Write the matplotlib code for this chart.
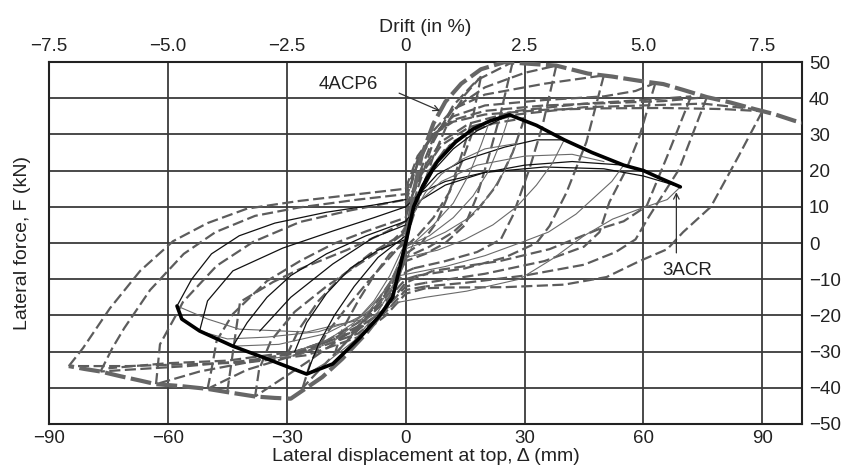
import matplotlib
matplotlib.use("Agg")
import matplotlib.pyplot as plt
import numpy as np

plt.rcParams['font.family'] = ['Liberation Sans', 'DejaVu Sans']

# ---------------- data (displacement mm, force kN) ----------------
x_ticks = [-90, -60, -30, 0, 30, 60, 90]
y_ticks = [-50, -40, -30, -20, -10, 0, 10, 20, 30, 40, 50]
drift_ticks = [-7.5, -5.0, -2.5, 0, 2.5, 5.0, 7.5]
drift_labels = ["\u22127.5", "\u22125.0", "\u22122.5", "0", "2.5", "5.0", "7.5"]

# 3ACR backbone (thick black)
acr_backbone_x = [-57.7, -56.5, -52, -43.6, -35, -25, -18.4, -11.6, -6.5, -3.3, 0, 2, 4.3, 8, 12.6, 17, 21.2, 26.2, 33, 40, 47, 55, 60, 64, 69.3]
acr_backbone_y = [-17.4, -21, -24.3, -28.5, -32, -36.2, -33.4, -26.2, -20, -15, 0, 10, 15.8, 22.5, 27.9, 31.5, 33.7, 35.4, 32.5, 28.5, 25, 21.5, 20, 18, 15.5]

# 4ACP6 envelope (thick grey dashed)
acp_env_pos_x = [0, 2, 4, 7, 10, 14, 19, 25, 30, 38, 46, 52, 59, 65, 70, 76, 82, 88, 93, 98, 100]
acp_env_pos_y = [0, 14, 24, 33, 39, 44, 48, 50, 49.6, 49, 46.8, 46, 44.8, 43.9, 42.3, 40.3, 38.8, 37, 35.6, 33.8, 33.2]
acp_env_neg_x = [0, -2, -5, -10, -16, -21, -25, -29, -33, -38, -45, -50, -57, -63, -67, -72, -77, -81, -85]
acp_env_neg_y = [0, -10, -18, -25, -32, -37, -40, -43, -42.8, -42.4, -41.2, -40.3, -39.5, -39, -38, -36.8, -35.5, -34.8, -34]

# 4ACP6 cyclic branches (grey dashed): reloading towards + peaks
acp_reload_pos = [
    [(0, 15), (3, 24), (7, 30), (12, 33.5), (20, 35.5), (35, 36.8), (50, 37.2), (65, 37.3), (80, 37), (90, 36.4)],
    [(0, 13.5), (3, 23), (7, 30), (12, 34), (20, 36.5), (35, 38), (50, 38.6), (65, 39.2), (76, 40.3)],
    [(0, 12), (3, 22), (7, 30), (12, 35), (20, 38), (35, 39.5), (50, 40.5), (58, 42), (63, 44.2)],
    [(0, 11), (3, 22), (7, 31), (12, 37), (20, 41), (35, 44), (50, 46.3)],
    [(0, 7), (3, 18), (7, 29), (12, 37), (20, 43), (30, 47), (38, 49)],
    [(0, 3), (3, 15), (7, 28), (12, 38), (18, 45), (27, 50)],
    [(0, 1), (3, 11), (7, 24), (11, 34), (15, 41), (19, 46)],
    [(0, 10), (4, 20), (9, 28), (16, 33), (28, 36.5), (45, 38.5), (60, 39.5), (72, 40.5)],
    [(0, 9), (4, 19), (9, 27), (16, 32), (28, 35.5), (45, 37.5), (60, 38), (75, 38.5), (88, 37)],
    [(0, 4), (3, 12), (6, 20), (10, 26), (15, 30), (22, 33), (30, 34.5)],
    [(-1, 2), (2, 9), (5, 17), (8, 23), (12, 28), (17, 31)],
]
# unloading from + peaks down to the pinched zone
acp_unload_pos = [
    [(90, 36.4), (84, 24), (77, 10), (70, 3), (66, -1.7), (59, -5), (50.7, -9.4), (40, -11.5), (25, -12.2), (10, -12.3), (5, -12.5)],
    [(76, 40.3), (69, 20.4), (61.5, 7.5), (58, 1), (53, -2.5), (45, -6), (30, -9), (15, -11), (5, -12)],
    [(63, 44.2), (59, 29.5), (55.7, 20.4), (51.4, 11.3), (48.9, 3), (45, -1), (35, -5), (20, -8.5), (5, -11)],
    [(50, 46.3), (45.6, 27.9), (40.6, 14), (36.3, 4.7), (33, 0), (25, -4), (15, -7), (3, -9)],
    [(38, 49), (34.5, 32.3), (31.2, 20.4), (27, 7.5), (24, 1), (18, -2.5), (10, -5), (2, -7)],
    [(27, 50), (24, 36), (21, 24), (18, 13), (15, 5), (10, 0), (5, -3), (0, -5)],
    [(19, 46), (17, 35), (14, 24), (11, 14), (8, 6), (4, 0), (0, -3)],
    [(72, 40.5), (66, 24), (60.8, 10.2), (55, 6), (48.9, 3.9), (36.3, -1.7), (23.7, -5), (6.8, -7.7)],
    [(30, 34.5), (27, 25), (23, 16), (18, 9), (12, 3), (6, -1), (0, -4)],
    [(17, 31), (14, 22), (11, 14), (7, 7), (3, 2), (0, -1)],
]
# reloading towards - peaks
acp_reload_neg = [
    [(5, -12.5), (0, -14), (-5, -20), (-12, -26), (-25, -31), (-40, -33), (-55, -33.5), (-70, -34), (-85, -34)],
    [(5, -12), (0, -13), (-5, -19), (-12, -25), (-25, -30), (-40, -32.5), (-55, -34), (-70, -35), (-77, -35.5)],
    [(5, -11), (0, -12), (-5, -18), (-12, -24), (-25, -29.5), (-40, -33), (-52, -35.5), (-63, -39)],
    [(3, -9), (0, -10), (-5, -16), (-12, -23), (-25, -30), (-40, -35), (-50, -40.3)],
    [(2, -7), (0, -8), (-5, -15), (-12, -23), (-25, -33), (-38, -42.4)],
    [(0, -5), (-5, -14), (-12, -24), (-20, -33), (-26, -40)],
    [(0, -3), (-4, -11), (-9, -19), (-14, -26), (-18, -31)],
    [(6.8, -7.7), (0, -11), (-6, -19), (-14, -25), (-28, -30), (-45, -32.5), (-60, -33.2), (-75, -34.6)],
    [(0, -4), (-3, -10), (-7, -17), (-12, -22), (-20, -27), (-30, -31)],
]
# unloading from - peaks back up to the pinched zone
acp_unload_neg = [
    [(-85, -34), (-81.4, -29), (-74.6, -18), (-67, -7.7), (-58.7, 0.5), (-50, 5.5), (-40, 9.5), (-27, 11.6), (-12, 13.5), (0, 15)],
    [(-77, -35.5), (-74, -29), (-71, -23.5), (-64.5, -13), (-56, -3), (-48, 3), (-38, 7.5), (-27, 9.8), (-12, 12), (0, 13.5)],
    [(-63, -39), (-62, -28), (-58, -20), (-56.2, -16.3), (-47.7, -6.3), (-38.5, 0.3), (-26.7, 5.8), (-14, 9), (0, 12)],
    [(-50, -40.3), (-49, -35), (-47.7, -27), (-43.6, -19.6), (-35, -10.5), (-26.7, -5), (-18.4, -0.3), (-9.8, 3.3), (0, 7)],
    [(-38, -42.4), (-37, -35), (-34, -27), (-28, -19), (-20, -12), (-12, -6), (-5, -1), (0, 3)],
    [(-26, -40), (-24, -33), (-20, -25), (-15, -18), (-9, -10), (-4, -4), (0, 1)],
    [(-18, -31), (-16, -24), (-12, -16), (-8, -9), (-4, -3), (0, 0)],
    [(-45, -41), (-41.8, -16.3), (-33.5, -10.8), (-26.7, -7.2), (-15, -2), (-5, 3), (0, 6)],
    [(-30, -31), (-27, -24), (-22, -16), (-16, -9), (-9, -3), (-3, 1), (0, 4)],
]

# 3ACR cyclic branches (thin solid)
acr_reload_pos = [
    [(0, 0), (2, 10), (5, 18), (10, 25), (15, 30), (21.2, 33.7)],
    [(0, 2), (3, 12), (7, 20), (12, 26), (18, 31), (26.2, 35.4)],
    [(0, 5), (3, 13), (8, 19), (15, 23), (25, 26.5), (33, 28.5), (40, 28.5)],
    [(0, 6), (4, 12), (10, 16), (20, 19.5), (30, 21.5), (42, 22.5), (55, 21.5)],
    [(0, 10), (4, 14), (10, 17), (20, 19.5), (35, 21), (50, 20.5), (60, 18.5), (69.3, 15.5)],
    [(-1, 3), (3, 11), (9, 17), (18, 21.5), (30, 24), (42, 24.5), (50, 22.5)],
    [(-1, 1), (2, 8), (5, 14), (9, 19), (14, 23), (20, 26), (28, 27.5)],
]
acr_unload_pos = [
    [(69.3, 15.5), (66, 12), (59, 9.4), (52.2, 6.6), (45, 2), (37, -4.4), (28.7, -10), (15.4, -13.3), (5, -15), (-1.5, -16.3)],
    [(55, 21.5), (52, 17), (47, 12), (43, 8), (36, 3), (29.5, 0.3), (20, -3.5), (10, -6.5), (-1.5, -9)],
    [(40, 28.5), (37, 22), (33, 16), (28, 10), (22, 5), (15, 1), (8, -2), (0, -4)],
    [(26.2, 35.4), (24, 28), (21, 20), (17, 13), (12, 7), (6, 2), (0, -1)],
    [(21.2, 33.7), (19, 27), (16, 19), (12, 11), (7, 5), (2, 0)],
    [(28, 27.5), (25, 20), (21, 13), (16, 7), (10, 3), (4, 0), (-1, -2)],
]
acr_reload_neg = [
    [(-1.5, -16.3), (-10, -21), (-17, -22.5), (-25, -24.6), (-42, -23.8), (-50, -21), (-57.7, -17.4)],
    [(-1.5, -9), (-6, -16), (-12, -21), (-22, -24.5), (-35, -26), (-45, -26.5), (-52, -24.3)],
    [(0, -4), (-5, -13), (-11, -20), (-20, -25), (-32, -28), (-43.6, -28.5)],
    [(0, -1), (-4, -11), (-10, -20), (-18, -27), (-27, -31), (-35, -32)],
    [(2, 0), (-2, -10), (-7, -19), (-13, -27), (-20, -33), (-25, -36.2)],
    [(-1, -2), (-4, -9), (-8, -16), (-13, -22), (-20, -27), (-28, -30)],
]
acr_unload_neg = [
    [(-57.7, -17.4), (-54, -10), (-49, -3), (-42, 2), (-33, 5.5), (-20, 8.5), (-8, 10.5), (0, 12)],
    [(-52, -24.3), (-50, -16), (-43.6, -7.7), (-31, -1.4), (-18.4, 3.3), (-8, 7), (0, 10)],
    [(-43.6, -28.5), (-40, -22), (-35, -15), (-29, -9), (-20, -3), (-10, 2), (0, 6)],
    [(-36.8, -24.3), (-29, -15), (-18.4, -5.8), (-8.3, 1.4), (0, 5)],
    [(-25, -36.2), (-22, -28), (-18, -20), (-13, -12), (-7, -4), (0, 2)],
    [(-28, -30), (-25, -22), (-20, -14), (-14, -7), (-7, -2), (0, 1)],
]

# annotations
label_4acp6 = "4ACP6"
label_4acp6_xy = (-14.4, 43.9)
arrow_4acp6_from = (-2.3, 41.7)
arrow_4acp6_to = (9.3, 36.2)
label_3acr = "3ACR"
label_3acr_xy = (71.0, -7.5)
arrow_3acr_from = (68.3, -3.5)
arrow_3acr_to = (68.3, 14.8)

# ---------------- figure ----------------
fig = plt.figure(figsize=(8.46, 4.72), dpi=100)
ax = fig.add_axes([49 / 846, 1 - 424 / 472, (802 - 49) / 846, (424 - 62) / 472])

ax.set_xlim(-90, 100)
ax.set_ylim(-50, 50)

grid_kw = dict(color='#3a3a3a', lw=1.3, zorder=0)
for gx in x_ticks[1:]:
    ax.axvline(gx, **grid_kw)
for gy in y_ticks[1:-1]:
    ax.axhline(gy, **grid_kw)

def draw_branches(branches, **kw):
    for br in branches:
        arr = np.array(br)
        ax.plot(arr[:, 0], arr[:, 1], **kw)

dash_kw = dict(color='#5c5c5c', lw=1.6, ls=(0, (5, 2)), zorder=2)
draw_branches(acp_reload_pos, **dash_kw)
draw_branches(acp_unload_pos, **dash_kw)
draw_branches(acp_reload_neg, **dash_kw)
draw_branches(acp_unload_neg, **dash_kw)

thin_kw = dict(color='#111111', lw=0.9, zorder=3)
thin_grey = dict(color='#6a6a6a', lw=0.8, zorder=3)
draw_branches(acr_reload_pos[:5], **thin_kw)
draw_branches(acr_reload_pos[5:], **thin_grey)
draw_branches(acr_unload_pos, **thin_grey)
draw_branches(acr_reload_neg, **thin_grey)
draw_branches(acr_unload_neg, **thin_kw)

env_kw = dict(color='#666666', lw=3.0, ls=(0, (5, 1.3)), zorder=4)
ax.plot(acp_env_pos_x, acp_env_pos_y, **env_kw)
ax.plot(acp_env_neg_x, acp_env_neg_y, **env_kw)

ax.plot(acr_backbone_x, acr_backbone_y, color='black', lw=2.6, zorder=5,
        solid_capstyle='round', solid_joinstyle='round')

FS = 14
TFS = 13.5
ax.annotate("", xy=arrow_4acp6_to, xytext=arrow_4acp6_from,
            arrowprops=dict(arrowstyle='->', color='#333333', lw=0.9), zorder=6)
ax.text(*label_4acp6_xy, label_4acp6, fontsize=TFS, ha='center', va='center', zorder=6, color='#222222')
ax.annotate("", xy=arrow_3acr_to, xytext=arrow_3acr_from,
            arrowprops=dict(arrowstyle='->', color='#333333', lw=0.9), zorder=6)
ax.text(*label_3acr_xy, label_3acr, fontsize=TFS, ha='center', va='center', zorder=6, color='#222222')

# axes styling
for s in ax.spines.values():
    s.set_linewidth(1.5)
    s.set_color('#222222')

ax.set_xticks(x_ticks)
ax.set_xticklabels([f"{v}".replace("-", "\u2212") for v in x_ticks])
ax.set_yticks(y_ticks)
ax.set_yticklabels([f"{v}".replace("-", "\u2212") for v in y_ticks])
ax.yaxis.tick_right()
ax.tick_params(axis='both', length=0, labelsize=TFS, colors='#222222')
ax.tick_params(axis='x', pad=4)
ax.tick_params(axis='y', pad=5)

ax.set_xlabel("Lateral displacement at top, \u0394 (mm)", fontsize=FS, labelpad=1, color='#222222')
ax.yaxis.set_label_position('left')
ax.set_ylabel("Lateral force, F (kN)", fontsize=FS, labelpad=13, color='#222222')

top = ax.secondary_xaxis('top', functions=(lambda d: d / 12.0, lambda p: p * 12.0))
top.set_xticks(drift_ticks)
top.set_xticklabels(drift_labels)
top.tick_params(length=0, labelsize=TFS, pad=5, colors='#222222')
top.set_xlabel("Drift (in %)", fontsize=FS, labelpad=4, color='#222222')
top.spines['top'].set_visible(False)

fig.savefig("out.png", dpi=100)
